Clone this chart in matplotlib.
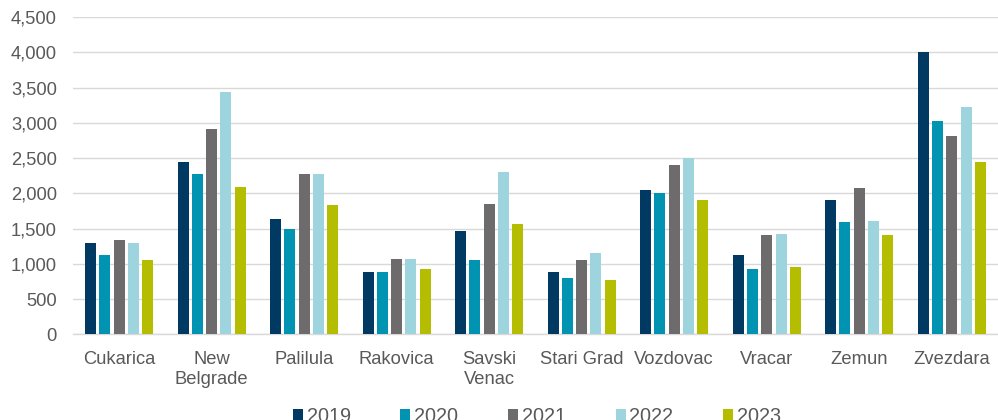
import matplotlib
matplotlib.use("Agg")
import matplotlib.pyplot as plt
from matplotlib.patches import Patch
from matplotlib.ticker import FuncFormatter, MultipleLocator
import numpy as np

plt.rcParams['font.family'] = ['Liberation Sans', 'DejaVu Sans']

categories = ["Cukarica", "New\nBelgrade", "Palilula", "Rakovica", "Savski\nVenac",
              "Stari Grad", "Vozdovac", "Vracar", "Zemun", "Zvezdara"]
years = ["2019", "2020", "2021", "2022", "2023"]
v2019 = [1300, 2450, 1640, 880, 1470, 880, 2050, 1120, 1900, 4010]
v2020 = [1130, 2280, 1490, 880, 1060, 800, 2010, 930, 1600, 3030]
v2021 = [1340, 2920, 2270, 1070, 1850, 1050, 2400, 1410, 2080, 2810]
v2022 = [1290, 3440, 2270, 1070, 2300, 1150, 2500, 1420, 1610, 3230]
v2023 = [1060, 2090, 1840, 920, 1570, 770, 1900, 960, 1410, 2440]
series = [v2019, v2020, v2021, v2022, v2023]
colors = ["#003A63", "#0093B2", "#6D6B6C", "#9DD4DD", "#B5BD00"]

fig = plt.figure(figsize=(9.98, 4.2), dpi=100)
ax = fig.add_axes([0.073, 0.204, 0.927, 0.755])

x = np.arange(len(categories))
pitch = 0.1546
width = 0.119
for i, (vals, c) in enumerate(zip(series, colors)):
    ax.bar(x + (i - 2) * pitch, vals, width=width, color=c, zorder=3, linewidth=0)

ax.set_xlim(-0.5, len(categories) - 0.5)
ax.set_ylim(0, 4500)
ax.yaxis.set_major_locator(MultipleLocator(500))
ax.yaxis.set_major_formatter(FuncFormatter(lambda v, p: f"{int(v):,}"))
ax.grid(axis='y', color='#D9D9D9', linewidth=1.0, zorder=0)
ax.set_axisbelow(True)
for s in ['top', 'right', 'left']:
    ax.spines[s].set_visible(False)
ax.spines['bottom'].set_color('#D9D9D9')
ax.spines['bottom'].set_linewidth(1.0)
ax.set_xticks(x)
ax.set_xticklabels(categories)
ax.tick_params(axis='both', length=0, labelcolor='#595959', labelsize=13.2)
ax.tick_params(axis='x', pad=12)
ax.tick_params(axis='y', pad=11.5)

handles = [Patch(facecolor=c, edgecolor='none', label=y) for c, y in zip(colors, years)]
fig.legend(handles=handles, loc='center', bbox_to_anchor=(0.538, 0.008), ncol=5,
           frameon=False, fontsize=14.3, labelcolor='#595959',
           handlelength=0.5, handleheight=0.5, handletextpad=0.2,
           columnspacing=2.5, borderpad=0)

fig.savefig("out.png", dpi=100)
